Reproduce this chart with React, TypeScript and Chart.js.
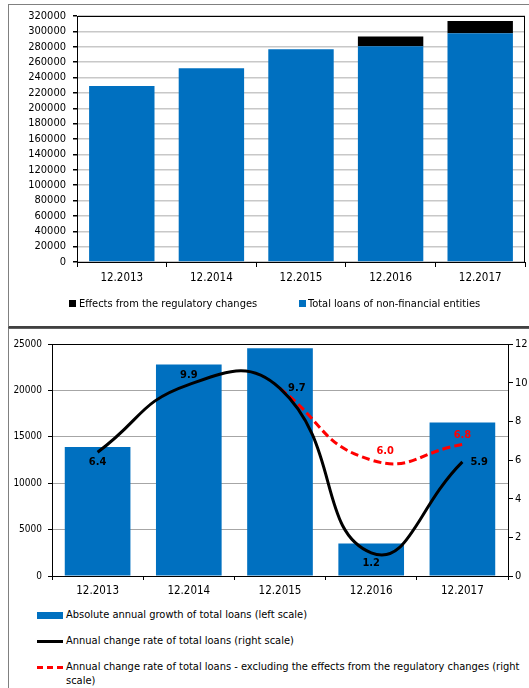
import React, { useEffect, useRef } from 'react';
import { Chart, registerables } from 'chart.js';

Chart.register(...registerables);

const FONT = "'DejaVu Sans Condensed', 'DejaVu Sans', sans-serif";

// ---------- data ----------
const categories = ['12.2013', '12.2014', '12.2015', '12.2016', '12.2017'];

// top chart
const totalLoans = [229100, 252100, 276800, 280700, 297600];
const regulatoryEffects = [0, 0, 0, 12500, 16000];
const topMax = 320000;
const topStep = 20000;
const topLabelEffects = 'Effects from the regulatory changes';
const topLabelTotal = 'Total loans of non-financial entities';

// bottom chart
const absoluteGrowth = [13900, 22800, 24550, 3500, 16550];
const changeRate = [6.4, 9.9, 9.7, 1.2, 5.9];
const changeRateExReg = [null, null, 9.7, 6.0, 6.8];
const leftMax = 25000;
const leftStep = 5000;
const rightMax = 12;
const rightStep = 2;
const labelGrowth = 'Absolute annual growth of total loans (left scale)';
const labelRate = 'Annual change rate of total loans (right scale)';
const labelRateEx =
  'Annual change rate of total loans - excluding the effects from the regulatory changes (right scale)';

// label placement for the value labels on the lines
const rateLabelPos = ['below', 'above', 'right', 'below', 'right'];
const rateExLabelPos = [null, null, null, 'aboveRight', 'above'];

const BLUE = '#0070C0';
const RED = '#FF0000';

const plotBorder = {
  id: 'plotBorder',
  afterDraw(chart: any) {
    const { ctx, chartArea } = chart;
    ctx.save();
    ctx.strokeStyle = '#000';
    ctx.lineWidth = 1;
    ctx.strokeRect(chartArea.left + 0.5, chartArea.top + 0.5, chartArea.right - chartArea.left - 1, chartArea.bottom - chartArea.top);
    ctx.restore();
  },
};

const valueLabels = {
  id: 'valueLabels',
  afterDatasetsDraw(chart: any) {
    const { ctx } = chart;
    ctx.save();
    ctx.font = `bold 11px ${FONT}`;
    chart.data.datasets.forEach((ds: any, di: number) => {
      if (!ds.labelPos) return;
      const meta = chart.getDatasetMeta(di);
      meta.data.forEach((pt: any, i: number) => {
        const pos = ds.labelPos[i];
        const v = ds.data[i];
        if (!pos || v == null) return;
        const txt = Number(v).toFixed(1);
        ctx.fillStyle = ds.labelColor;
        ctx.textBaseline = 'middle';
        let x = pt.x;
        let y = pt.y;
        ctx.textAlign = 'center';
        if (pos === 'below') y += 10;
        else if (pos === 'above') y -= 9;
        else if (pos === 'right') {
          ctx.textAlign = 'left';
          x += 8;
        } else if (pos === 'aboveRight') {
          x += 14;
          y -= 9;
        }
        ctx.fillText(txt, x, y);
      });
    });
    ctx.restore();
  },
};

export default function App() {
  const topRef = useRef<HTMLCanvasElement>(null);
  const botRef = useRef<HTMLCanvasElement>(null);

  useEffect(() => {
    Chart.defaults.font.family = FONT;
    Chart.defaults.color = '#000';

    const top = new Chart(topRef.current as HTMLCanvasElement, {
      type: 'bar',
      data: {
        labels: categories,
        datasets: [
          {
            label: topLabelTotal,
            data: totalLoans,
            backgroundColor: BLUE,
            barPercentage: 0.73,
            categoryPercentage: 1,
          },
          {
            label: topLabelEffects,
            data: regulatoryEffects,
            backgroundColor: '#000',
            barPercentage: 0.73,
            categoryPercentage: 1,
          },
        ],
      },
      options: {
        animation: false,
        responsive: false,
        devicePixelRatio: 1,
        layout: { padding: { top: 16, right: 4, left: 0, bottom: 0 } },
        plugins: { legend: { display: false }, tooltip: { enabled: false } },
        scales: {
          x: {
            stacked: true,
            grid: { drawOnChartArea: false, tickColor: '#000', tickLength: 5, offset: true },
            border: { color: '#000' },
            ticks: { color: '#000', font: { size: 11.5 }, padding: 4 },
            afterFit: (s: any) => {
              s.height = 38;
            },
          },
          y: {
            stacked: true,
            min: 0,
            max: topMax,
            ticks: {
              stepSize: topStep,
              autoSkip: false,
              color: '#000',
              font: { size: 11 },
              padding: 7,
              callback: (v: any) => String(v),
            },
            grid: { color: '#c8c8c8', lineWidth: 1.5, tickColor: '#000', tickLength: 4 },
            border: { color: '#000' },
            afterFit: (s: any) => {
              s.width = 77;
            },
          },
        },
      },
      plugins: [plotBorder],
    });

    const bot = new Chart(botRef.current as HTMLCanvasElement, {
      type: 'bar',
      data: {
        labels: categories,
        datasets: [
          {
            type: 'line',
            label: labelRate,
            data: changeRate,
            yAxisID: 'y1',
            borderColor: '#000',
            borderWidth: 3,
            pointRadius: 0,
            tension: 0.5,
            fill: false,
            order: 0,
            labelPos: rateLabelPos,
            labelColor: '#000',
          } as any,
          {
            type: 'line',
            label: labelRateEx,
            data: changeRateExReg,
            yAxisID: 'y1',
            borderColor: RED,
            borderWidth: 3,
            borderDash: [8, 4],
            pointRadius: 0,
            tension: 0.5,
            fill: false,
            order: 0,
            labelPos: rateExLabelPos,
            labelColor: RED,
          } as any,
          {
            type: 'bar',
            label: labelGrowth,
            data: absoluteGrowth,
            yAxisID: 'y',
            backgroundColor: BLUE,
            barPercentage: 0.72,
            categoryPercentage: 1,
            order: 1,
          },
        ],
      },
      options: {
        animation: false,
        responsive: false,
        devicePixelRatio: 1,
        layout: { padding: { top: 15, right: 0, left: 0, bottom: 0 } },
        plugins: { legend: { display: false }, tooltip: { enabled: false } },
        scales: {
          x: {
            grid: { drawOnChartArea: false, tickColor: '#000', tickLength: 4, offset: true },
            border: { color: '#000' },
            ticks: { color: '#000', font: { size: 11.5 }, padding: 4 },
            afterFit: (s: any) => {
              s.height = 28;
            },
          },
          y: {
            position: 'left',
            min: 0,
            max: leftMax,
            ticks: {
              stepSize: leftStep,
              autoSkip: false,
              color: '#000',
              font: { size: 10 },
              padding: 6,
              callback: (v: any) => String(v),
            },
            grid: {
              color: (c: any) => (c.tick && c.tick.value === leftMax ? '#000' : '#a6a6a6'),
              tickColor: '#000',
              tickLength: 4,
            },
            border: { color: '#000' },
            afterFit: (s: any) => {
              s.width = 52;
            },
          },
          y1: {
            position: 'right',
            min: 0,
            max: rightMax,
            ticks: { stepSize: rightStep, autoSkip: false, color: '#000', font: { size: 11 }, padding: 2 },
            grid: { drawOnChartArea: false, tickColor: '#000', tickLength: 5 },
            border: { color: '#000' },
            afterFit: (s: any) => {
              s.width = 37;
            },
          },
        },
      },
      plugins: [valueLabels],
    });

    return () => {
      top.destroy();
      bot.destroy();
    };
  }, []);

  const legendText: React.CSSProperties = {
    fontFamily: FONT,
    fontSize: 11,
    color: '#000',
    whiteSpace: 'nowrap',
  };
  const legendText2: React.CSSProperties = {
    fontFamily: FONT,
    fontSize: 11,
    color: '#000',
    lineHeight: '14px',
  };

  return (
    <div
      style={{
        position: 'fixed',
        left: 0,
        top: 0,
        width: 529,
        height: 688,
        overflow: 'hidden',
        background: '#fff',
      }}
    >
      <div
        style={{
          position: 'absolute',
          left: 8,
          top: 4,
          width: 560,
          height: 321,
          borderTop: '1px solid #808080',
          borderLeft: '1px solid #808080',
          borderBottom: '2px solid #404040',
        }}
      />
      <div
        style={{
          position: 'absolute',
          left: 8,
          top: 328,
          width: 560,
          height: 400,
          borderTop: '1px solid #606060',
          borderLeft: '1px solid #808080',
        }}
      />
      <canvas
        ref={topRef}
        width={529}
        height={300}
        style={{ position: 'absolute', left: 0, top: 0, width: 529, height: 300 }}
      />
      <canvas
        ref={botRef}
        width={545}
        height={275}
        style={{ position: 'absolute', left: 0, top: 329, width: 545, height: 275 }}
      />

      {/* top legend */}
      <div style={{ position: 'absolute', left: 69, top: 297, display: 'flex', alignItems: 'center' }}>
        <span style={{ width: 7, height: 7, background: '#000', marginRight: 3 }} />
        <span style={legendText}>{topLabelEffects}</span>
      </div>
      <div style={{ position: 'absolute', left: 299, top: 297, display: 'flex', alignItems: 'center' }}>
        <span style={{ width: 7, height: 7, background: BLUE, marginRight: 2 }} />
        <span style={legendText}>{topLabelTotal}</span>
      </div>

      {/* bottom legend */}
      <div style={{ position: 'absolute', left: 37, top: 608, display: 'flex', alignItems: 'center' }}>
        <span style={{ width: 26, height: 7, background: BLUE, marginRight: 3, flex: 'none' }} />
        <span style={legendText2}>{labelGrowth}</span>
      </div>
      <div style={{ position: 'absolute', left: 37, top: 634, display: 'flex', alignItems: 'center' }}>
        <span style={{ width: 26, height: 3, background: '#000', marginRight: 3, flex: 'none' }} />
        <span style={legendText2}>{labelRate}</span>
      </div>
      <div style={{ position: 'absolute', left: 37, top: 660, width: 492, display: 'flex', alignItems: 'flex-start' }}>
        <span
          style={{
            width: 26,
            height: 0,
            borderTop: '3px dashed ' + RED,
            marginTop: 6,
            marginRight: 3,
            flex: 'none',
          }}
        />
        <span style={legendText2}>{labelRateEx}</span>
      </div>
    </div>
  );
}
